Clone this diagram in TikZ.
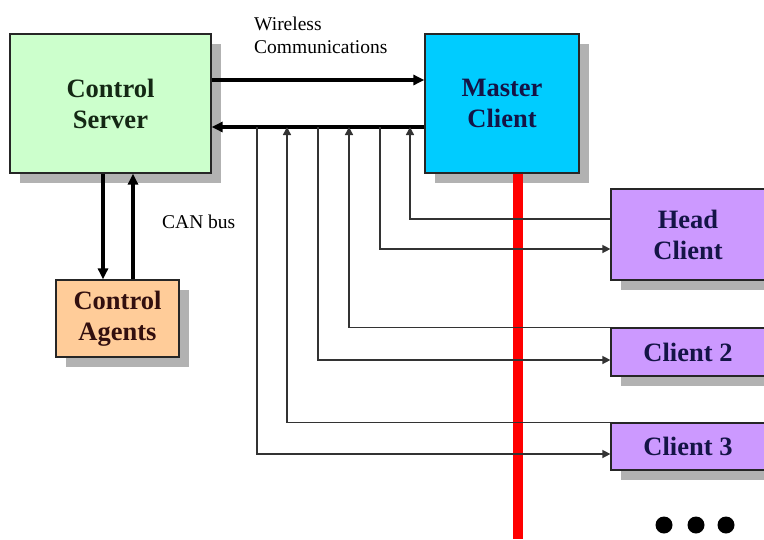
\documentclass[tikz,border=0pt]{standalone}
\usepackage{fontspec}
\setmainfont{Liberation Serif}
\usepackage{tikz}
\usetikzlibrary{arrows.meta, positioning, shadows}

\definecolor{srvgreen}{RGB}{204,255,204}
\definecolor{mstcyan}{RGB}{0,204,255}
\definecolor{agtorange}{RGB}{255,204,153}
\definecolor{clipurple}{RGB}{204,153,255}
\definecolor{shadowgray}{RGB}{178,178,178}
\definecolor{inkgreen}{RGB}{20,40,20}
\definecolor{inknavy}{RGB}{20,20,70}
\definecolor{inkbrown}{RGB}{50,15,15}

\begin{document}
\begin{tikzpicture}[x=1pt, y=-1pt,
  blk/.style={draw=black!85, line width=1.2pt, align=center,
    font=\fontsize{26.5}{31}\selectfont\bfseries,
    drop shadow={shadow xshift=10pt, shadow yshift=-10pt, fill=shadowgray, opacity=1}},
  fat/.style={line width=3.3pt, -{Triangle[length=11pt, width=10pt]}},
  wire/.style={line width=1.4pt, black!80, -{Triangle[length=8pt, width=8pt]}},
  note/.style={font=\fontsize{19.5}{23}\selectfont, align=left, inner sep=0pt}]
\useasboundingbox (0,0) rectangle (764,539);

% Boxes
\node[blk, fill=srvgreen, text=inkgreen, minimum width=201pt, minimum height=139pt] (server) at (110.5,103.5) {Control\\Server};
\node[blk, fill=mstcyan, text=inknavy, minimum width=154pt, minimum height=139pt] (master) at (502,103.5) {Master\\Client};
\node[blk, fill=agtorange, text=inkbrown, minimum width=123pt, minimum height=77pt] (agents) at (117.5,318.5) {Control\\Agents};
\node[blk, fill=clipurple, text=inknavy, minimum width=154pt, minimum height=91pt] (head) at (688,234.5) {Head\\Client};
\node[blk, fill=clipurple, text=inknavy, minimum width=154pt, minimum height=48pt] (c2) at (688,352) {Client 2};
\node[blk, fill=clipurple, text=inknavy, minimum width=154pt, minimum height=47pt] (c3) at (688,446.5) {Client 3};

% Red line
\coordinate (railend) at (518,539);
\draw[red, line width=10pt] ([xshift=16pt]master.south) -- (railend);

% Wireless links
\draw[fat] ([yshift=23.5pt]server.east) -- ([yshift=23.5pt]master.west);
\draw[fat] ([yshift=-23.5pt]master.west) -- ([yshift=-23.5pt]server.east);

% CAN bus links
\draw[fat] ([xshift=-7.5pt]server.south) -- ([xshift=-7.5pt]server.south |- agents.north);
\draw[fat] ([xshift=22.5pt]server.south |- agents.north) -- ([xshift=22.5pt]server.south);

% Taps on the return line
\coordinate (t1) at (257,127);
\coordinate (t2) at (287,127);
\coordinate (t3) at (318,127);
\coordinate (t4) at (349,127);
\coordinate (t5) at (380,127);
\coordinate (t6) at (410,127);

% Client links
\draw[wire] (t1) |- ([yshift=-7.5pt]c3.west);
\draw[wire] (c3.north west) -| (t2);
\draw[wire] (t3) |- ([yshift=-8pt]c2.west);
\draw[wire] (c2.north west) -| (t4);
\draw[wire] (t5) |- ([yshift=-14.5pt]head.west);
\draw[wire] ([yshift=15.5pt]head.west) -| (t6);

% Labels
\node[note, anchor=north west] (wlabel) at (254,16.5) {Wireless\\Communications};
\node[note, anchor=west] (canlabel) at (162,221.5) {CAN bus};

% Dots
\fill (664,525) circle (8.5pt);
\fill (696,525) circle (8.5pt);
\fill (726,525) circle (8.5pt);
\end{tikzpicture}
\end{document}
